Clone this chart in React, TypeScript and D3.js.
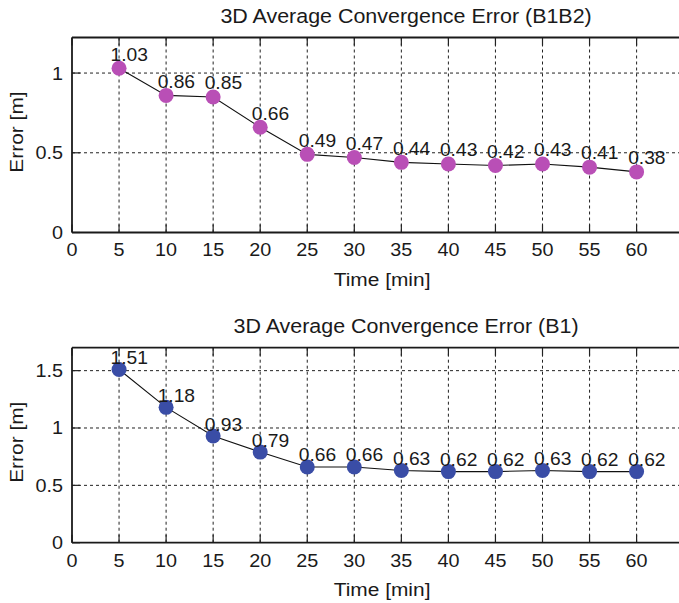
import React from "react";
import * as d3 from "d3";

const times = [5, 10, 15, 20, 25, 30, 35, 40, 45, 50, 55, 60];
const errB1B2 = [1.03, 0.86, 0.85, 0.66, 0.49, 0.47, 0.44, 0.43, 0.42, 0.43, 0.41, 0.38];
const errB1 = [1.51, 1.18, 0.93, 0.79, 0.66, 0.66, 0.63, 0.62, 0.62, 0.63, 0.62, 0.62];
const xTicks = [0, 5, 10, 15, 20, 25, 30, 35, 40, 45, 50, 55, 60];
const yTicksTop = [0, 0.5, 1];
const yTicksBottom = [0, 0.5, 1, 1.5];
const titleTop = "3D Average Convergence Error (B1B2)";
const titleBottom = "3D Average Convergence Error (B1)";
const xLabel = "Time [min]";
const yLabel = "Error [m]";

const FONT = "'Liberation Sans', Arial, Helvetica, sans-serif";
const SX = 1.1;

function T({ x, y, size, anchor = "start", rotate = 0, children }: any) {
  return (
    <text
      transform={`translate(${x},${y}) rotate(${rotate}) scale(${SX},1)`}
      fontSize={size}
      fontFamily={FONT}
      textAnchor={anchor}
      fill="#1a1a1a"
    >
      {children}
    </text>
  );
}

function Panel({ top, bottom, yMax, values, yTicks, color, title }: any) {
  const left = 72;
  const x = d3.scaleLinear().domain([0, 71]).range([left, left + 71 * 9.41]);
  const y = d3.scaleLinear().domain([0, yMax]).range([bottom, top]);
  const right = x(71);
  const line = d3
    .line<number>()
    .x((_, i) => x(times[i]))
    .y((d) => y(d));
  const fmt = (v: number) => d3.format(".2f")(v);
  const tickFmt = (v: number) => (v === 0 ? "0" : String(v));
  return (
    <g>
      {/* grid */}
      {xTicks
        .filter((t) => t > 0)
        .map((t) => (
          <line key={"gx" + t} x1={x(t)} x2={x(t)} y1={top} y2={bottom} stroke="#222" strokeWidth={1} strokeDasharray="3,3" />
        ))}
      {yTicks
        .filter((t: number) => t > 0)
        .map((t: number) => (
          <line key={"gy" + t} x1={left} x2={right} y1={y(t)} y2={y(t)} stroke="#222" strokeWidth={1} strokeDasharray="3,3" />
        ))}
      {/* ticks */}
      {xTicks.map((t) => (
        <g key={"tx" + t}>
          <line x1={x(t)} x2={x(t)} y1={bottom} y2={bottom - 8} stroke="#222" strokeWidth={1.2} />
          <line x1={x(t)} x2={x(t)} y1={top} y2={top + 8} stroke="#222" strokeWidth={1.2} />
          <T x={x(t)} y={bottom + 23.8} size={18} anchor="middle">
            {tickFmt(t)}
          </T>
        </g>
      ))}
      {yTicks.map((t: number) => (
        <g key={"ty" + t}>
          <line x1={left} x2={left + 8} y1={y(t)} y2={y(t)} stroke="#222" strokeWidth={1.2} />
          <T x={63} y={y(t) + 6.5} size={18} anchor="end">
            {tickFmt(t)}
          </T>
        </g>
      ))}
      {/* axes box */}
      <line x1={left} x2={right} y1={top} y2={top} stroke="#1a1a1a" strokeWidth={1.8} />
      <line x1={left} x2={right} y1={bottom} y2={bottom} stroke="#1a1a1a" strokeWidth={1.8} />
      <line x1={left} x2={left} y1={top} y2={bottom} stroke="#1a1a1a" strokeWidth={1.8} />
      {/* data line */}
      <path d={line(values) || ""} fill="none" stroke="#111" strokeWidth={1.1} />
      {values.map((v: number, i: number) => (
        <circle key={"c" + i} cx={x(times[i])} cy={y(v)} r={7.5} fill={color} />
      ))}
      {values.map((v: number, i: number) => (
        <T key={"l" + i} x={x(times[i] - 0.9)} y={y(v + 0.048)} size={17.5}>
          {fmt(v)}
        </T>
      ))}
      {/* labels */}
      <T x={(left + right) / 2} y={top - 14.5} size={19.5} anchor="middle">
        {title}
      </T>
      <T x={(left + right) / 2 - 24} y={bottom + 53} size={19} anchor="middle">
        {xLabel}
      </T>
      <T x={23} y={(top + bottom) / 2 - 3} size={19} anchor="middle" rotate={-90}>
        {yLabel}
      </T>
    </g>
  );
}

export default function App() {
  return (
    <svg
      width={679}
      height={603}
      viewBox="0 0 679 603"
      style={{ position: "absolute", left: 0, top: 0, background: "#fff" }}
    >
      <rect x={0} y={0} width={679} height={603} fill="#fff" />
      <Panel top={37.5} bottom={232.5} yMax={1.223} values={errB1B2} yTicks={yTicksTop} color="#B94FB6" title={titleTop} />
      <Panel top={347.7} bottom={542.7} yMax={1.7} values={errB1} yTicks={yTicksBottom} color="#3A4DA6" title={titleBottom} />
    </svg>
  );
}
